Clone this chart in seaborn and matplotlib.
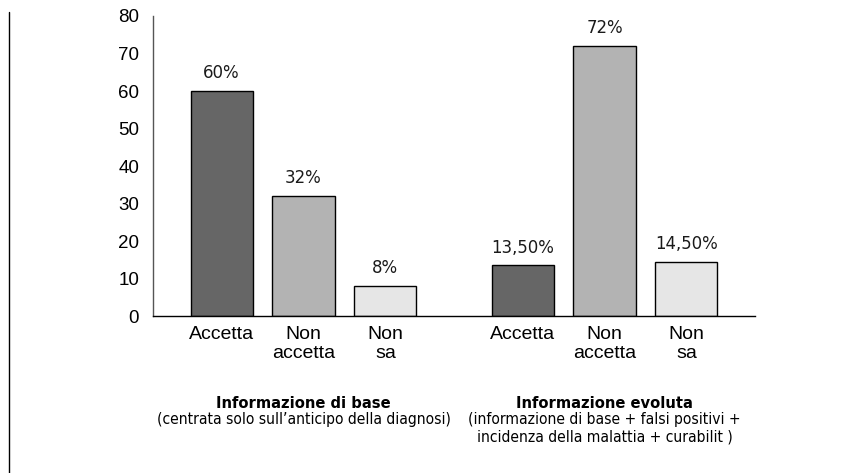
import matplotlib
matplotlib.use("Agg")
import matplotlib.pyplot as plt
from matplotlib.lines import Line2D
from matplotlib.transforms import blended_transform_factory
import pandas as pd
import seaborn as sns

# data
responses = ["Accetta", "Non\naccetta", "Non\nsa"]
base_values = [60, 32, 8]
evol_values = [13.5, 72, 14.5]
base_labels = ["60%", "32%", "8%"]
evol_labels = ["13,50%", "72%", "14,50%"]
group_titles = ["Informazione di base", "Informazione evoluta"]
group_notes = [
    "(centrata solo sull\u2019anticipo della diagnosi)",
    "(informazione di base + falsi positivi +\nincidenza della malattia + curabilit )",
]
y_ticks = [0, 10, 20, 30, 40, 50, 60, 70, 80]

OFFSETS = [0.228, 0.5, 0.772]  # bar centres inside each group (group width = 1)
COLORS = {"Accetta": "#666666", "Non\naccetta": "#b3b3b3", "Non\nsa": "#e6e6e6"}
REG = ["Liberation Sans", "DejaVu Sans"]
NARROW = dict(family="DejaVu Sans", fontstretch="condensed")

rows = []
for g, (vals, labs) in enumerate([(base_values, base_labels), (evol_values, evol_labels)]):
    for off, resp, v, lab in zip(OFFSETS, responses, vals, labs):
        rows.append({"pos": g + off, "resp": resp, "value": v, "label": lab})
df = pd.DataFrame(rows)

sns.set_style("white")
plt.rcParams["font.family"] = REG
plt.rcParams["text.color"] = "black"

fig = plt.figure(figsize=(8.52, 4.73), dpi=100)
ax = fig.add_axes([153 / 852, 1 - 316 / 473, 602 / 852, 300 / 473])

sns.barplot(data=df, x="pos", y="value", hue="resp", palette=COLORS, dodge=False,
            native_scale=True, width=0.76, edgecolor="black", linewidth=1,
            errorbar=None, legend=False, ax=ax)

for _, r in df.iterrows():
    ax.text(r["pos"], r["value"] + 2.3, r["label"], ha="center", va="bottom",
            fontsize=13.2, color="#1a1a1a", **NARROW)

ax.set_xlim(0, 2)
ax.set_ylim(0, 80)
ax.set_yticks(y_ticks)
ax.tick_params(axis="y", direction="out", length=7, width=1, labelsize=13.5,
               pad=3, color="#555555", labelcolor="black")
ax.set_xticks([0, 1, 2])
ax.set_xticklabels([])
ax.tick_params(axis="x", which="major", direction="out", length=5, width=1, color="black")
ax.set_xticks(df["pos"].tolist(), minor=True)
ax.set_xticklabels(df["resp"].tolist(), minor=True, fontsize=14, color="black")
ax.tick_params(axis="x", which="minor", length=0, pad=7)
ax.set_xlabel("")
ax.set_ylabel("")
for side in ["top", "right"]:
    ax.spines[side].set_visible(False)
ax.spines["bottom"].set_color("black")
ax.spines["left"].set_color("#555555")
for side in ["left", "bottom"]:
    ax.spines[side].set_linewidth(1)

# group captions under the axis, centred on each group
trans = blended_transform_factory(ax.transData, fig.transFigure)
for g, (title, note) in enumerate(zip(group_titles, group_notes)):
    ax.text(g + 0.5, 1 - 403 / 473, title, transform=trans, ha="center", va="center",
            fontsize=11.8, fontweight="bold", **NARROW)
    ax.text(g + 0.5, 1 - 412 / 473, note, transform=trans, ha="center", va="top",
            fontsize=11.2, linespacing=1.2, **NARROW)

# frame line at the left edge
fig.add_artist(Line2D([9 / 852, 9 / 852], [0, 1 - 12 / 473], color="black", lw=1))

fig.savefig("out.png", dpi=100)
